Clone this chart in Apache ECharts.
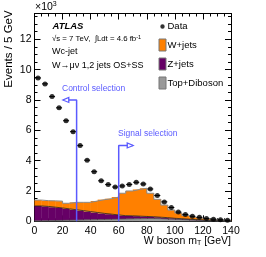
<!DOCTYPE html>
<html><head><meta charset="utf-8">
<script src="https://cdn.jsdelivr.net/npm/echarts@6/dist/echarts.min.js"></script>
<style>html,body{margin:0;padding:0;background:#fff}#c{width:266px;height:257px}</style>
</head><body><div id="c"></div>
<script>
// bin lower edges (GeV), bin width 5 GeV, last edge 140
const binLow = [0,5,10,15,20,25,30,35,40,45,50,55,60,65,70,75,80,85,90,95,100,105,110,115,120,125,130,135];
const binWidth = 5;
const lastEdge = 140;
// values in units of 10^3 events / 5 GeV
const dataEvents = [9.45,9.06,8.22,7.48,6.63,5.91,4.99,4.03,3.27,2.67,2.42,2.26,2.33,2.43,2.57,2.46,2.13,1.70,1.28,0.91,0.61,0.45,0.33,0.26,0.19,0.14,0.10,0.07];
const wJets      = [0.39,0.38,0.42,0.45,0.37,0.49,0.55,0.61,0.76,0.91,1.02,1.18,1.48,1.64,1.76,1.86,1.55,1.18,0.83,0.54,0.38,0.24,0.16,0.11,0.08,0.05,0.04,0.03];
const zJets      = [0.98,0.94,0.88,0.82,0.75,0.68,0.61,0.54,0.47,0.40,0.34,0.28,0.22,0.20,0.17,0.14,0.12,0.10,0.09,0.07,0.06,0.05,0.04,0.03,0.02,0.02,0.015,0.01];
const topDiboson = [0.03,0.04,0.05,0.06,0.07,0.08,0.09,0.10,0.11,0.12,0.13,0.14,0.15,0.16,0.17,0.18,0.18,0.17,0.15,0.13,0.11,0.09,0.07,0.06,0.05,0.04,0.035,0.03];
const xTickLabels = [0,20,40,60,80,100,120,140];
const yTickLabels = [0,2,4,6,8,10,12];
// selection annotations: cut value, arrow height, arrow tip
const controlCut = [30, 8.0, 20.5];
const signalCut  = [60, 5.0, 70];

const blue = '#5a5aff';
const font = 'Liberation Sans, Arial, Helvetica, sans-serif';

// stack: Top+Diboson at bottom, then Z+jets, then W+jets
const stackOrder = [topDiboson, zJets, wJets];
const bases = [];
const tops = [];
{
  let r = binLow.map(() => 0);
  stackOrder.forEach(arr => { bases.push(r.slice()); r = r.map((v,i)=>v+arr[i]); tops.push(r.slice()); });
}

function histSeries(name, layer, color){
  return {
    name, type:'custom', z:2, itemStyle:{color},
    data: binLow.map((x,i) => [x, bases[layer][i], tops[layer][i]]),
    renderItem:(params, api) => {
      const x0 = api.value(0), b = api.value(1), t = api.value(2);
      const p0 = api.coord([x0, t]), p1 = api.coord([x0 + binWidth, b]);
      return {type:'rect', shape:{x:p0[0], y:p0[1], width:p1[0]-p0[0]+0.3, height:p1[1]-p0[1]},
              style:{fill:color, stroke:null}};
    }
  };
}
function outline(layer, color, w){
  const d = binLow.map((x,i)=>[x, tops[layer][i]]);
  d.push([lastEdge, tops[layer][tops[layer].length-1]]);
  return {name:'ol'+layer, type:'line', step:'end', symbol:'none', z:3, data:d,
          lineStyle:{color, width:w}, silent:true};
}

const chart = echarts.init(document.getElementById('c'), null, {renderer:'canvas'});
const axisCommon = {
  type:'value',
  axisLine:{show:true, onZero:false, lineStyle:{color:'#000', width:1}},
  axisTick:{show:true, inside:true, length:6, lineStyle:{color:'#000', width:1}},
  minorTick:{show:true, splitNumber:4, length:3, lineStyle:{color:'#000', width:1}},
  splitLine:{show:false},
  axisLabel:{color:'#000', fontFamily:font, fontSize:10.5, margin:4}
};
const xAx = Object.assign({}, axisCommon, {min:0, max:140, interval:20,
  axisLabel:Object.assign({}, axisCommon.axisLabel, {
    formatter:v => xTickLabels.includes(v) ? String(v) : ''})});
const yAx = Object.assign({}, axisCommon, {min:0, max:13.7, interval:2,
  axisLabel:Object.assign({}, axisCommon.axisLabel, {showMaxLabel:false, margin:3,
    formatter:v => yTickLabels.includes(v) ? String(v) : ''})});

const arrowTri = (rot, off) => ({symbol:'triangle', symbolSize:[5,6], symbolRotate:rot, symbolOffset:off,
  itemStyle:{color:'#fff', borderColor:blue, borderWidth:1.2}});

const option = {
  animation:false,
  backgroundColor:'#fff',
  grid:{left:34.5, right:35, top:13.5, bottom:35.7},
  xAxis:[xAx, Object.assign({}, xAx, {position:'top', axisLabel:{show:false}})],
  yAxis:[yAx, Object.assign({}, yAx, {position:'right', axisLabel:{show:false}})],
  legend:{
    orient:'vertical', left:158.5, top:20.5, padding:0, itemWidth:7, itemHeight:12, itemGap:6,
    textStyle:{fontFamily:font, fontSize:9.5, color:'#000', padding:[0,0,0,-3.5]},
    selectedMode:false,
    data:[
      {name:'Data', icon:'path://M0,0M7,12M1.3,6a2.2,2.2 0 1,0 4.4,0a2.2,2.2 0 1,0 -4.4,0Z', itemStyle:{color:'#000', borderWidth:0}},
      {name:'W+jets', icon:'rect', itemStyle:{color:'#ff8000', borderColor:'#777', borderWidth:1}},
      {name:'Z+jets', icon:'rect', itemStyle:{color:'#660066', borderColor:'#777', borderWidth:1}},
      {name:'Top+Diboson', icon:'rect', itemStyle:{color:'#999999', borderColor:'#777', borderWidth:1}}
    ]
  },
  series:[
    histSeries('Top+Diboson', 0, '#999999'),
    histSeries('Z+jets', 1, '#660066'),
    histSeries('W+jets', 2, '#ff8000'),
    outline(0, '#555', 0.8),
    outline(1, '#222', 0.8),
    outline(2, '#8a8a8a', 1),
    {name:'errx', type:'custom', z:5,
     data:binLow.map((x,i)=>[x + binWidth/2, dataEvents[i]]),
     renderItem:(params, api) => {
       const x = api.value(0), y = api.value(1);
       const a = api.coord([x-binWidth/2, y]), b = api.coord([x+binWidth/2, y]);
       return {type:'line', shape:{x1:a[0]+0.5, y1:a[1], x2:b[0]-0.5, y2:b[1]}, style:{stroke:'#000', lineWidth:1}};
     }},
    {name:'Data', type:'scatter', symbol:'circle', symbolSize:5, z:6,
     data:binLow.map((x,i)=>[x + binWidth/2, dataEvents[i]]), itemStyle:{color:'#000'}},
    {name:'ctrl', type:'line', symbol:'none', z:7, lineStyle:{color:blue, width:1.5},
     data:[[controlCut[0],0],[controlCut[0],controlCut[1]],
           Object.assign({value:[controlCut[2],controlCut[1]]}, arrowTri(90,[2.5,0]))],
     showSymbol:true},
    {name:'sig', type:'line', symbol:'none', z:7, lineStyle:{color:blue, width:1.5},
     data:[[signalCut[0],0],[signalCut[0],signalCut[1]],
           Object.assign({value:[signalCut[2],signalCut[1]]}, arrowTri(-90,[-2.5,0]))],
     showSymbol:true}
  ],
  graphic:[
    {type:'text', x:35, y:1, style:{text:'×10{s|3}', fontFamily:font, fontSize:10.5, fill:'#000',
      rich:{s:{fontSize:7, verticalAlign:'top', padding:[0,0,6,0], fontFamily:font}}}},
    {type:'text', x:9, y:49, rotation:Math.PI/2, style:{text:'Events / 5 GeV', fontFamily:font, fontSize:11.5,
      fill:'#000', align:'center', verticalAlign:'middle'}},
    {type:'text', x:231, y:241, style:{text:'W boson m{sub|T} [GeV]', fontFamily:font, fontSize:10.5, fill:'#000',
      align:'right', verticalAlign:'middle', rich:{sub:{fontSize:7, padding:[5,0,0,0], fontFamily:font}}}},
    {type:'text', x:52.5, y:26, style:{text:'ATLAS', fontFamily:font, fontSize:9.5, fontWeight:'bold', fontStyle:'italic',
      fill:'#000', verticalAlign:'middle'}},
    {type:'text', x:52, y:39, style:{text:'√s = 7 TeV,  ∫Ldt = 4.6 fb{sup|-1}', fontFamily:font, fontSize:7.8, fill:'#000',
      verticalAlign:'middle', rich:{sup:{fontSize:5.5, padding:[0,0,4,0], fontFamily:font}}}},
    {type:'text', x:52, y:52, style:{text:'Wc-jet', fontFamily:font, fontSize:9, fill:'#000', verticalAlign:'middle'}},
    {type:'text', x:52, y:66, style:{text:'W→μν 1,2 jets OS+SS', fontFamily:font, fontSize:9, fill:'#000', verticalAlign:'middle'}},
    {type:'text', x:62, y:89, style:{text:'Control selection', fontFamily:font, fontSize:8.5, fill:blue, verticalAlign:'middle'}},
    {type:'text', x:118, y:134, style:{text:'Signal selection', fontFamily:font, fontSize:8.5, fill:blue, verticalAlign:'middle'}}
  ]
};
chart.setOption(option);
</script>
</body></html>
